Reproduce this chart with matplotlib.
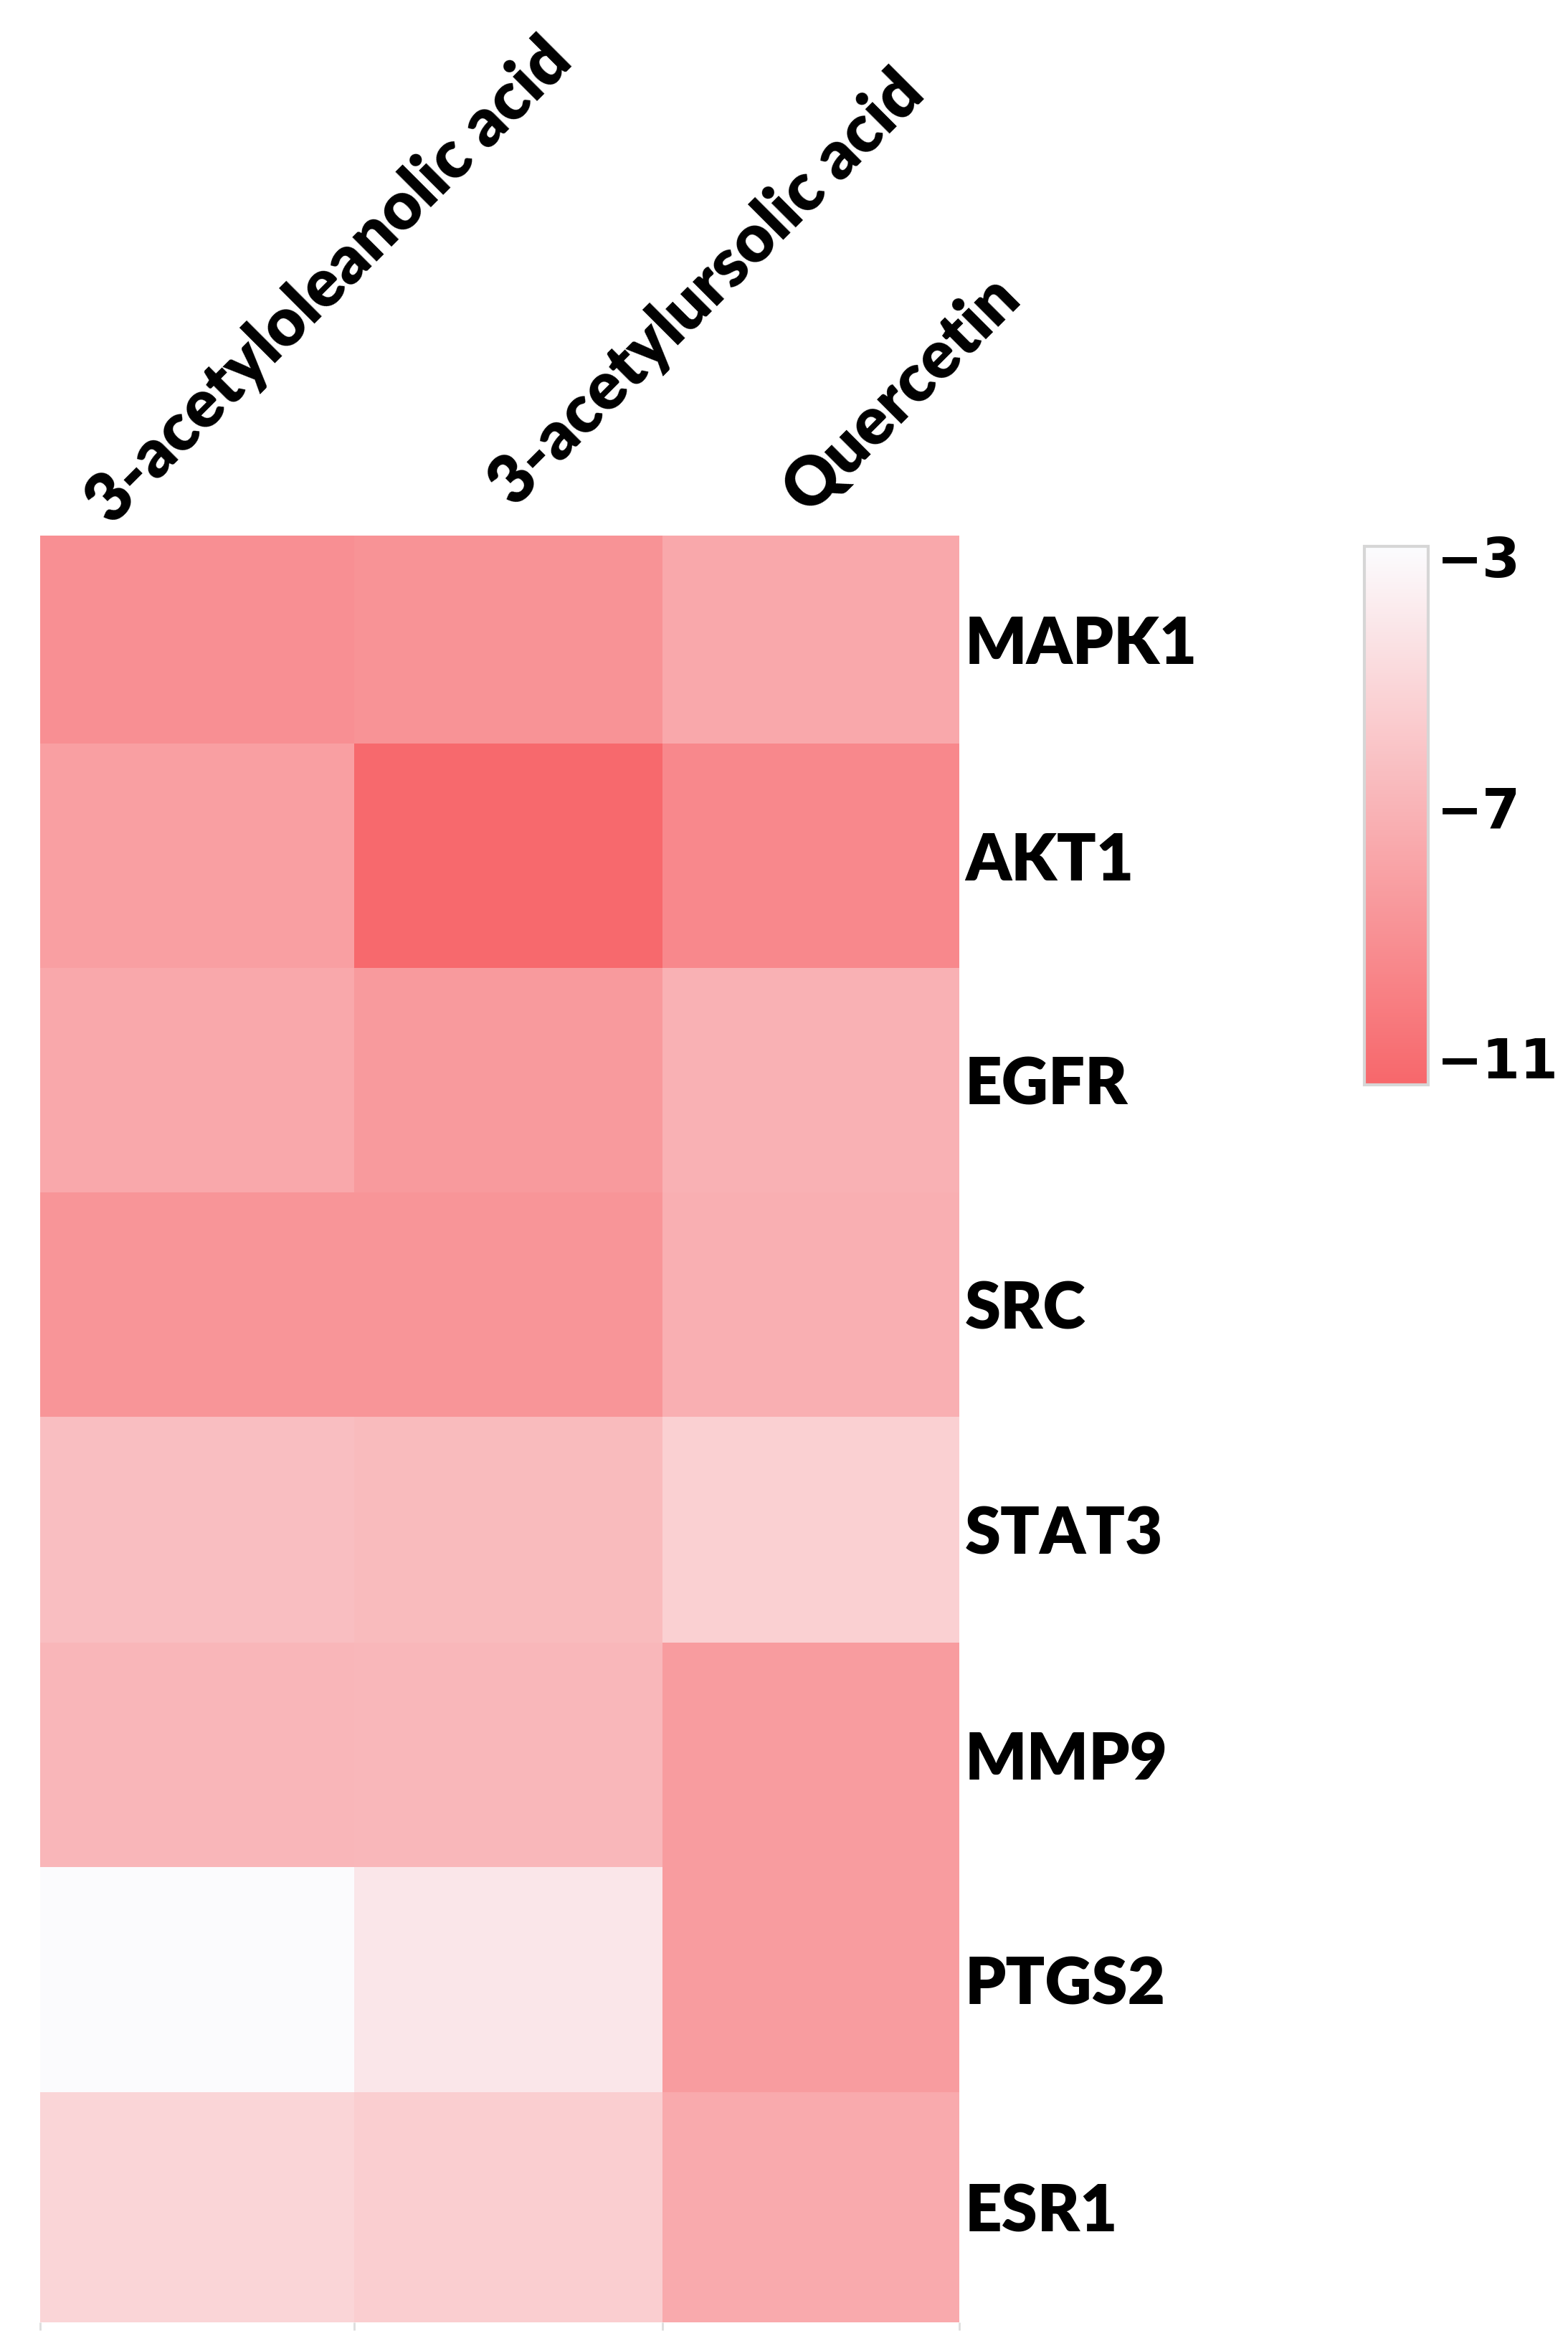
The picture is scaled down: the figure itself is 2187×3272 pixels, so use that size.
import matplotlib
matplotlib.use("Agg")
import matplotlib.pyplot as plt
from matplotlib.colors import LinearSegmentedColormap
import numpy as np

# docking scores (kcal/mol)
compounds = ["3-acetyloleanolic acid", "3-acetylursolic acid", "Quercetin"]
targets = ["MAPK1", "AKT1", "EGFR", "SRC", "STAT3", "MMP9", "PTGS2", "ESR1"]

oleanolic = [-9.1, -8.2, -7.7, -8.8, -6.4, -6.9, -2.9, -5.1]
ursolic = [-8.9, -11.3, -8.5, -8.8, -6.6, -6.8, -4.1, -5.5]
quercetin = [-7.7, -9.5, -7.2, -7.3, -5.4, -8.4, -8.4, -7.6]

cbar_ticks = [-3, -7, -11]


def make_plot():
    scores = np.column_stack([oleanolic, ursolic, quercetin])

    cmap = LinearSegmentedColormap.from_list("dock", ["#f7676b", "#fbfcfe"])

    # cell edges (the source image has slightly uneven cells)
    col_edges = np.array([0, 210, 416, 614]) / 205.0
    row_edges = np.array([0, 139, 289, 439, 589, 740, 890, 1040, 1194]) / 149.0
    col_mid = (col_edges[:-1] + col_edges[1:]) / 2
    row_mid = (row_edges[:-1] + row_edges[1:]) / 2

    fig = plt.figure(figsize=(21.87, 32.72), dpi=100)
    ax = fig.add_axes([0.0256, 0.0101, 0.586, 0.7616])
    cax = fig.add_axes([0.870, 0.5376, 0.041, 0.2295])

    mesh = ax.pcolormesh(col_edges, row_edges, scores, cmap=cmap,
                         vmin=-11.43, vmax=-2.84, shading="flat")
    ax.set_xlim(col_edges[0], col_edges[-1])
    ax.set_ylim(row_edges[-1], row_edges[0])

    for s in ax.spines.values():
        s.set_visible(False)

    # row labels on the right
    ax.yaxis.tick_right()
    ax.set_yticks(row_mid)
    ax.set_yticklabels(targets, fontfamily="Lato", fontweight="heavy", fontsize=65)
    ax.tick_params(axis="y", length=0, pad=6)

    # faint boundary marks under the columns
    ax.set_xticks(col_edges)
    ax.set_xticklabels([])
    ax.tick_params(axis="x", length=8, width=2, color="#dddddd", direction="out")

    # rotated column labels above the heatmap
    label_x = [col_mid[0] - 0.28, col_mid[1] + 0.02, col_mid[2] - 0.01]
    label_y = [-0.04, -0.12, -0.09]
    for name, lx, ly in zip(compounds, label_x, label_y):
        ax.text(lx, ly, name, rotation=45, rotation_mode="anchor",
                ha="left", va="baseline", fontfamily="Lato",
                fontweight="heavy", fontsize=67, clip_on=False)

    cb = fig.colorbar(mesh, cax=cax)
    cb.set_ticks(cbar_ticks)
    cb.set_ticklabels(["\u22123", "\u22127", "\u221211"])
    cb.outline.set_edgecolor("#d6d6d6")
    cb.outline.set_linewidth(3)
    cax.tick_params(length=0, pad=8)
    for t in cax.get_yticklabels():
        t.set_fontfamily("DejaVu Sans")
        t.set_fontweight("bold")
        t.set_fontsize(55)

    fig.savefig("out.png", dpi=100, facecolor="white")
    plt.close(fig)


if __name__ == "__main__":
    make_plot()
